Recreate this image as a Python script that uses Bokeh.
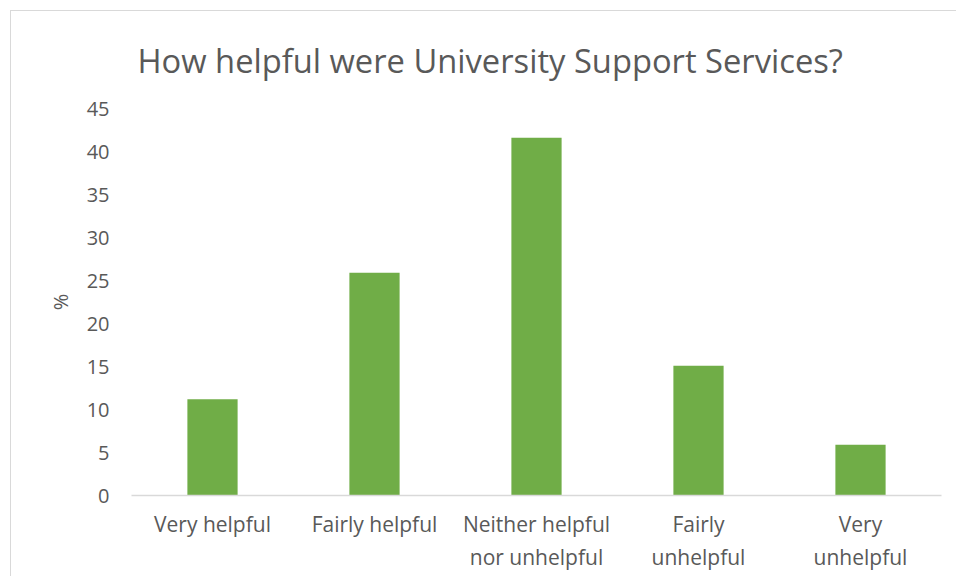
from bokeh.plotting import figure
from bokeh.models import Range1d, FixedTicker
from bokeh.embed import file_html
from bokeh.resources import INLINE

categories = ["Very helpful", "Fairly helpful", "Neither helpful\nnor unhelpful",
              "Fairly\nunhelpful", "Very\nunhelpful"]
values = [11.2, 25.9, 41.6, 15.1, 5.9]
y_ticks = [0, 5, 10, 15, 20, 25, 30, 35, 40, 45]
title_text = "How helpful were University Support Services?"

FONT = "Open Sans"
TXT = "#595959"

p = figure(x_range=categories, y_range=Range1d(0, 45),
           width=946, height=566, output_backend="svg", toolbar_location=None,
           min_border_left=120, min_border_right=16, min_border_top=97,
           min_border_bottom=82, title=title_text,
           styles={"border-left": "1px solid #d9d9d9", "border-top": "1px solid #d9d9d9",
                   "margin-left": "10px", "margin-top": "10px"})

p.vbar(x=categories, top=values, width=0.31, fill_color="#70AD47", line_color=None)

p.title.text_font = FONT
p.title.text_font_size = "32.7px"
p.title.text_font_style = "normal"
p.title.text_color = TXT
p.title.align = "left"
p.title.vertical_align = "top"
p.title.offset = 6
p.title.standoff = 47

p.outline_line_color = None
p.background_fill_color = "white"
p.border_fill_color = "white"
p.xgrid.grid_line_color = None
p.ygrid.grid_line_color = None

ya = p.yaxis[0]
ya.ticker = FixedTicker(ticks=y_ticks)
ya.axis_line_color = None
ya.major_tick_line_color = None
ya.minor_tick_line_color = None
ya.major_label_text_font = FONT
ya.major_label_text_font_size = "20px"
ya.major_label_text_color = TXT
ya.major_label_standoff = 16
ya.axis_label = "%"
ya.axis_label_text_font = FONT
ya.axis_label_text_font_size = "20px"
ya.axis_label_text_font_style = "normal"
ya.axis_label_text_color = TXT
ya.axis_label_standoff = 10

xa = p.xaxis[0]
xa.axis_line_color = "#d9d9d9"
xa.axis_line_width = 1.5
xa.major_tick_line_color = None
xa.minor_tick_line_color = None
xa.major_label_text_font = FONT
xa.major_label_text_font_size = "21px"
xa.major_label_text_color = TXT
xa.major_label_standoff = 8

open("out.html", "w").write(file_html(p, INLINE))
